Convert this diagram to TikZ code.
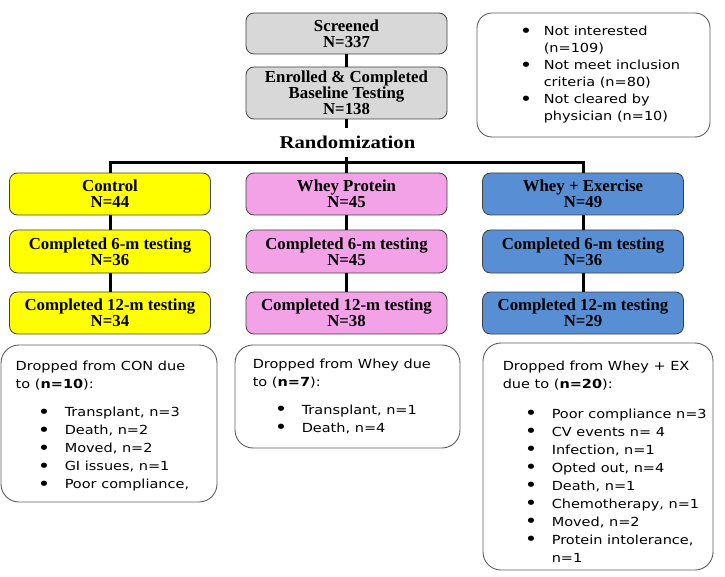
\documentclass[tikz,border=0pt]{standalone}
\usepackage{graphicx}
\usepackage{fontspec}
\setmainfont{Liberation Serif}
\newfontfamily\notefont[FakeStretch=1.16]{DejaVu Sans}
\newfontfamily\randfont[FakeStretch=1.15]{Liberation Serif}
\usetikzlibrary{positioning}
\definecolor{boxgrey}{RGB}{216,216,216}
\definecolor{ctrlyellow}{RGB}{255,255,0}
\definecolor{wheypink}{RGB}{244,162,232}
\definecolor{exblue}{RGB}{88,142,212}
\definecolor{edgegrey}{RGB}{64,64,64}
\newcommand{\bigbul}{\raisebox{-1.2pt}{\scalebox{1.45}{\textbullet}}}
\newcommand{\dropitem}[1]{\hspace*{22pt}\makebox[27pt][l]{\bigbul}#1}
\newcommand{\noteitem}{\makebox[24pt][l]{\bigbul}}
\tikzset{
  nbox/.style={draw=edgegrey,line width=0.8pt,rounded corners=8pt,align=center,inner sep=2pt,
    font=\bfseries\fontsize{16.8}{16}\selectfont,minimum width=201pt,minimum height=42pt},
  greybox/.style={nbox,fill=boxgrey},
  yellowbox/.style={nbox,fill=ctrlyellow},
  pinkbox/.style={nbox,fill=wheypink},
  bluebox/.style={nbox,fill=exblue},
  dropbox/.style={draw=edgegrey!85,line width=0.9pt,rounded corners=18pt,inner sep=0pt},
  droptext/.style={align=left,inner sep=0pt,anchor=west,font=\notefont\fontsize{12.5}{18}\selectfont},
  link/.style={line width=3pt,draw=black},
  randlab/.style={font=\randfont\bfseries\fontsize{18}{20}\selectfont,inner sep=0pt,minimum height=29pt}
}
\begin{document}
\begin{tikzpicture}[x=1pt,y=-1pt]
  \useasboundingbox (0,0) rectangle (725,577);
  \node[greybox,minimum height=41pt] (screen) at (346.5,33.5) {Screened\\N=337};
  \node[greybox,minimum height=52pt] (enrol) at (346.5,93) {Enrolled \& Completed\\Baseline Testing\\N=138};
  \node[randlab] (rand) at (347.5,142.5) {Randomization};
  \coordinate (split) at (346.5,163);

  \node[dropbox,rounded corners=15pt,minimum width=233pt,minimum height=124pt] (excl) at (593.5,75) {};
  \node[droptext,font=\notefont\fontsize{12.5}{17}\selectfont] (excltext) at ([xshift=43pt]excl.west)
    {\noteitem Not interested\\\hspace*{24pt}(n=109)\\
     \noteitem Not meet inclusion\\\hspace*{24pt}criteria (n=80)\\
     \noteitem Not cleared by\\\hspace*{24pt}physician (n=10)};

  \node[yellowbox] (ctrl) at (110,194) {Control\\N=44};
  \node[yellowbox,minimum height=43pt] (ctrl6) at (110,251.5) {Completed 6-m testing\\N=36};
  \node[yellowbox] (ctrl12) at (110,313) {Completed 12-m testing\\N=34};

  \node[pinkbox] (whey) at (346.5,194) {Whey Protein\\N=45};
  \node[pinkbox,minimum height=43pt] (whey6) at (346.5,251.5) {Completed 6-m testing\\N=45};
  \node[pinkbox] (whey12) at (346.5,313) {Completed 12-m testing\\N=38};

  \node[bluebox] (wex) at (583,194) {Whey + Exercise\\N=49};
  \node[bluebox,minimum height=43pt] (wex6) at (583,251.5) {Completed 6-m testing\\N=36};
  \node[bluebox] (wex12) at (583,313) {Completed 12-m testing\\N=29};

  \draw[link] (screen) -- (enrol);
  \draw[link] (enrol.south) -- (enrol.south |- rand.north);
  \draw[link] (whey.north |- rand.south) -- (whey);
  \draw[link] (ctrl.north) |- (split) -| (wex.north);
  \draw[link] (ctrl) -- (ctrl6);
  \draw[link] (ctrl6) -- (ctrl12);
  \draw[link] (whey) -- (whey6);
  \draw[link] (whey6) -- (whey12);
  \draw[link] (wex) -- (wex6);
  \draw[link] (wex6) -- (wex12);

  \node[dropbox,minimum width=216pt,minimum height=157pt] (condrop) at (109,423.5) {};
  \node[droptext] (context) at ([xshift=15pt,yshift=-3pt]condrop.west)
    {Dropped from CON due\\to (\textbf{n=10}):\\[10pt]
     \dropitem{Transplant, n=3}\\
     \dropitem{Death, n=2}\\
     \dropitem{Moved, n=2}\\
     \dropitem{GI issues, n=1}\\
     \dropitem{Poor compliance,}};

  \node[dropbox,minimum width=225pt,minimum height=103pt] (wheydrop) at (347.5,396.5) {};
  \node[droptext] (wheytext) at ([xshift=18pt]wheydrop.west)
    {Dropped from Whey due\\to (\textbf{n=7}):\\[10pt]
     \dropitem{Transplant, n=1}\\
     \dropitem{Death, n=4}};

  \node[dropbox,minimum width=230pt,minimum height=227pt] (wexdrop) at (598,456.5) {};
  \node[droptext] (wextext) at ([xshift=20pt,yshift=-5pt]wexdrop.west)
    {Dropped from Whey + EX\\due to (\textbf{n=20}):\\[12pt]
     \dropitem{Poor compliance n=3}\\
     \dropitem{CV events n= 4}\\
     \dropitem{Infection, n=1}\\
     \dropitem{Opted out, n=4}\\
     \dropitem{Death, n=1}\\
     \dropitem{Chemotherapy, n=1}\\
     \dropitem{Moved, n=2}\\
     \dropitem{Protein intolerance,}\\
     \hspace*{49pt}n=1};
\end{tikzpicture}
\end{document}
